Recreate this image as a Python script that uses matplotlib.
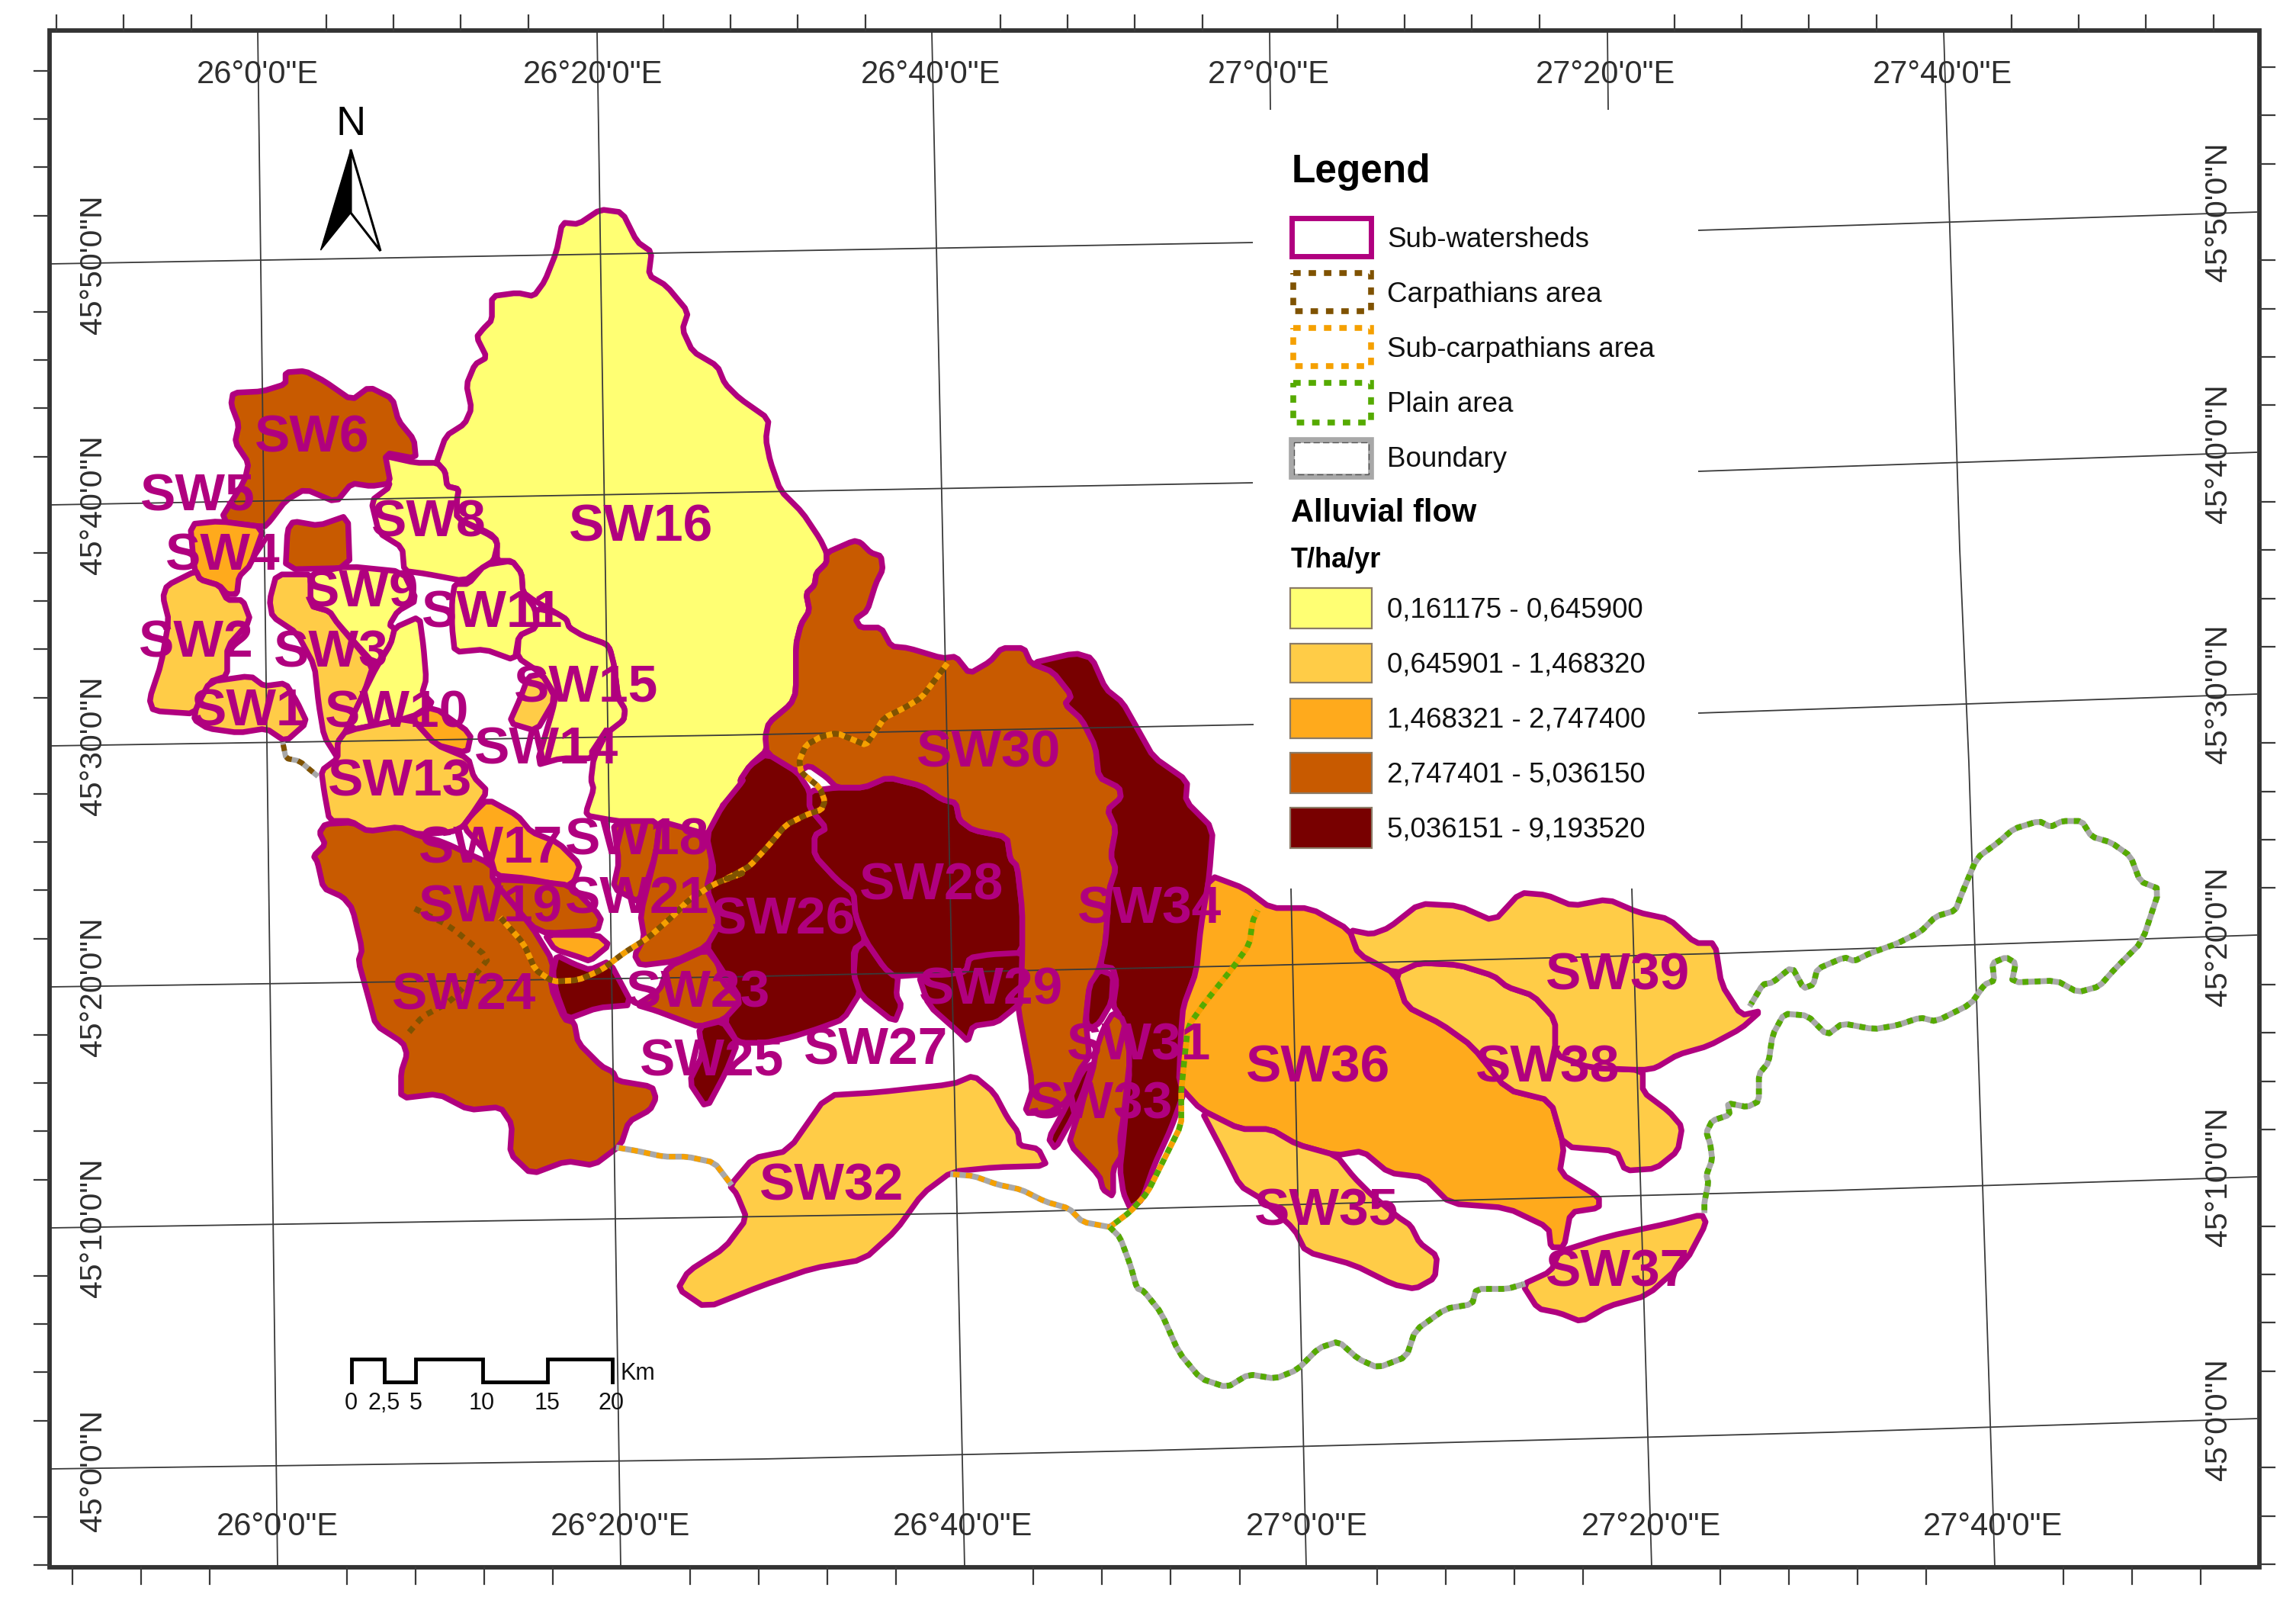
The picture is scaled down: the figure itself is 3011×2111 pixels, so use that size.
import matplotlib
matplotlib.use("Agg")
import matplotlib.pyplot as plt
from matplotlib.patches import Polygon, Rectangle
import numpy as np

plt.rcParams['font.family'] = ['Liberation Sans', 'DejaVu Sans']
plt.rcParams['lines.scale_dashes'] = False

W, H = 3011, 2111

# survey windows: (x0, y0, width, height) of the map sheet; every outline below is read in one of them
Z1 = (150, 450, 800, 600)
Z2 = (350, 1000, 800, 600)
Z5 = (950, 680, 700, 700)
Z6 = (1250, 1100, 700, 700)
Z7 = (1500, 1050, 900, 900)
Z8 = (2100, 1000, 800, 800)
Z9 = (300, 680, 560, 560)
Z10 = (0, 0, 700, 700)
D = (0, 0, 3011, 3011)


def z(frame, pts):
    x0, y0, w, h = frame
    sx, sy = (1.9203 if frame is D else w / 1568), (1.9203 if frame is D else h / 1568)
    return [(x0 + a * sx, y0 + b * sy) for a, b in pts]


def smooth(pts, closed=True, n=1):
    # corner rounding only: the drawn outline keeps to the traced vertices
    p = np.asarray(pts, float)
    for _ in range(n):
        q = np.roll(p, -1, axis=0) if closed else p[1:]
        a = p if closed else p[:-1]
        cut = np.empty((2 * len(a), 2))
        cut[0::2] = 0.85 * a + 0.15 * q
        cut[1::2] = 0.15 * a + 0.85 * q
        if not closed:
            cut = np.vstack([p[0], cut, p[-1]])
        p = cut
    return p


YEL, LOR, ORA, BRN, DRK = '#FFFF73', '#FFCC47', '#FFAA1C', '#C85A00', '#780000'
MAG = '#B0007F'

classes = ['0,161175 - 0,645900', '0,645901 - 1,468320', '1,468321 - 2,747400',
           '2,747401 - 5,036150', '5,036151 - 9,193520']
class_colors = [YEL, LOR, ORA, BRN, DRK]

sw16 = (z(Z10, [(1280, 1365), (1310, 1280), (1365, 1245), (1385, 1200), (1370, 1130), (1395, 1070), (1430, 1050),
                (1400, 990), (1420, 965), (1445, 940), (1445, 870), (1520, 860), (1568, 870)]) +
        z(D, [(372, 192), (380, 172), (384, 152), (395, 153), (410, 143), (425, 145), (435, 165), (445, 172), (443, 188), (455, 195), (470, 213),
              (466, 225), (473, 240), (490, 250), (495, 262), (505, 272), (525, 286), (523, 300), (526, 315),
              (533, 335), (548, 350), (560, 368)]) +
        z(Z5, [(300, 100), (300, 130), (270, 160), (265, 195), (240, 220), (250, 270), (225, 310), (210, 370),
               (210, 510), (195, 545), (130, 600), (125, 680), (75, 725), (45, 770), (65, 820), (0, 830)]) +
        z(Z2, [(1150, 220), (1130, 245), (830, 185), (820, 170), (840, 90)]) +
        z(Z9, [(1330, 960), (1340, 880), (1385, 790), (1420, 760), (1450, 740), (1455, 700), (1430, 660), (1415, 540),
               (1400, 480), (1385, 460), (1300, 430), (1250, 400), (1240, 370), (1200, 345), (1120, 300), (1080, 270),
               (1075, 200), (1040, 155), (985, 155), (985, 80), (960, 55)]) +
        z(Z1, [(880, 600), (880, 540), (885, 500), (855, 490), (850, 440), (830, 410)]))
sw8 = z(Z1, [(690, 385), (775, 410), (830, 410), (850, 440), (855, 490), (885, 500), (880, 540), (880, 600), (975, 665),
             (985, 690), (975, 745), (945, 770), (900, 815), (800, 790), (745, 780), (740, 700), (680, 650), (660, 540),
             (710, 490), (690, 440)])
sw6 = z(Z1, [(305, 170), (380, 165), (440, 140), (440, 100), (490, 95), (540, 130), (610, 195), (655, 150), (715, 190),
             (730, 265), (770, 330), (775, 395), (695, 375), (710, 480), (660, 490), (610, 480), (570, 545), (490, 500),
             (440, 540), (400, 610), (385, 630), (270, 610), (335, 470), (345, 410), (310, 340), (320, 280), (300, 210)])
sw7 = z(Z1, [(460, 610), (525, 625), (600, 590), (605, 770), (440, 775), (445, 640)])
sw4 = z(Z1, [(195, 620), (270, 610), (385, 630), (350, 760), (320, 800), (315, 860), (290, 860), (270, 830), (220, 810),
             (205, 770)])
sw2 = z(Z1, [(135, 830), (210, 780), (220, 810), (270, 830), (290, 880), (330, 880), (350, 950), (290, 1040), (290, 1140),
             (245, 1160), (210, 1270), (100, 1260), (90, 1220), (120, 1100), (140, 950), (125, 870)])
sw1 = z(Z1, [(245, 1160), (350, 1140), (385, 1175), (440, 1165), (470, 1230), (495, 1300), (440, 1365), (390, 1320),
             (320, 1335), (240, 1320), (205, 1290), (210, 1250)])
sw3 = z(Z9, [(175, 205), (310, 205), (300, 320), (370, 340), (400, 385), (530, 540), (500, 630), (430, 780), (400, 820),
             (400, 880), (350, 800), (330, 680), (315, 540), (250, 420), (160, 360), (150, 300)])
sw9 = z(Z9, [(300, 200), (440, 175), (640, 195), (690, 300), (620, 340), (590, 390), (610, 405), (595, 460), (540, 540),
             (400, 385), (370, 340), (300, 320)])
sw10 = z(Z9, [(610, 400), (700, 360), (715, 470), (725, 590), (710, 640), (750, 680), (670, 730), (430, 780), (500, 630),
              (540, 550), (595, 460)])
sw11 = z(Z9, [(830, 240), (880, 240), (940, 170), (1040, 155), (1075, 200), (1080, 270), (1125, 330), (1130, 400),
              (1065, 430), (1050, 520), (940, 480), (830, 490), (820, 400), (820, 300)])
sw15 = z(Z9, [(1130, 330), (1200, 345), (1240, 370), (1250, 400), (1300, 430), (1385, 460), (1400, 480), (1415, 540),
              (1430, 660), (1455, 700), (1450, 740), (1385, 790), (1340, 880), (1220, 880), (1130, 905), (1190, 700),
              (1200, 650), (1150, 570), (1060, 510), (1065, 430), (1130, 400)])
sw14 = z(Z9, [(1070, 660), (1100, 580), (1150, 570), (1200, 660), (1130, 780), (1030, 750)])
sw13 = z(Z9, [(430, 780), (670, 730), (760, 830), (880, 880), (900, 950), (950, 1000), (890, 1090), (860, 1130),
              (820, 1150), (700, 1160), (620, 1135), (520, 1160), (450, 1110), (370, 1110), (350, 1000), (340, 925),
              (400, 880), (400, 820)])
sw12 = z(Z9, [(670, 730), (750, 690), (890, 790), (875, 860), (760, 830)])
sw17 = z(Z9, [(950, 1030), (1060, 1090), (1110, 1150), (1210, 1190), (1290, 1270), (1270, 1330), (1240, 1350),
              (1090, 1320), (980, 1310), (960, 1240), (860, 1130), (890, 1090)])
sw24 = z(Z2, [(150, 210), (220, 205), (260, 235), (340, 220), (390, 250), (450, 270), (580, 350), (580, 400), (680, 560),
              (735, 680), (730, 770), (765, 880), (790, 890), (800, 960), (860, 1040), (890, 1060), (900, 1090),
              (990, 1110), (1000, 1150), (985, 1190), (930, 1230), (910, 1310), (840, 1380), (770, 1365), (680, 1410),
              (625, 1340), (630, 1240), (600, 1180), (520, 1190), (440, 1135), (345, 1150), (345, 1060), (360, 1000),
              (350, 960), (280, 900), (260, 800), (235, 680), (245, 640), (220, 500), (195, 460), (145, 430), (130, 340),
              (120, 320), (150, 280), (135, 240)])
sw19 = z(Z2, [(580, 400), (680, 405), (780, 420), (860, 530), (850, 575), (720, 585), (680, 560)])
sw20 = z(Z2, [(715, 590), (850, 590), (880, 625), (830, 680), (800, 665), (740, 640)])
sw22 = z(Z2, [(745, 660), (790, 690), (830, 710), (880, 680), (940, 830), (850, 840), (770, 880), (745, 790), (735, 720)])
sw18 = z(Z2, [(890, 200), (1010, 200), (1000, 310), (960, 480), (890, 430), (905, 340)])
sw21 = z(Z2, [(1010, 200), (1130, 245), (1145, 350), (1130, 430), (1165, 550), (1130, 630), (1050, 680), (960, 695),
              (945, 660), (970, 600), (960, 520), (1000, 310)])
sw23 = z(Z2, [(1030, 700), (1130, 640), (1160, 690), (1170, 750), (1220, 820), (1175, 880), (1110, 905), (1060, 880),
              (1000, 850), (950, 830), (1010, 780)])
sw25 = z(Z2, [(1110, 905), (1170, 885), (1210, 960), (1180, 1060), (1130, 1185), (1085, 1095), (1120, 1000)])
sw26 = (z(Z5, [(45, 770), (75, 725), (125, 690), (215, 745), (250, 800), (250, 850), (300, 910), (265, 930), (265, 990),
               (330, 1060), (380, 1100), (385, 1165), (415, 1240), (380, 1265), (380, 1340), (400, 1390), (350, 1470)]) +
        z(Z2, [(1420, 910), (1350, 940), (1280, 960), (1210, 960), (1175, 880), (1220, 815), (1160, 690), (1130, 630),
               (1165, 550), (1130, 430), (1150, 370), (1130, 250), (1170, 150), (1225, 60)]))
sw27 = z(Z5, [(385, 1265), (415, 1240), (470, 1320), (510, 1345), (505, 1400), (520, 1430), (500, 1480), (400, 1400),
              (380, 1340)])
sw28 = z(Z5, [(250, 800), (330, 790), (410, 790), (480, 760), (580, 785), (640, 825), (680, 835), (690, 885), (730, 915),
              (830, 935), (840, 1000), (860, 1020), (875, 1150), (875, 1275), (800, 1285), (720, 1290), (710, 1330),
              (650, 1340), (570, 1340), (500, 1345), (470, 1320), (415, 1240), (385, 1165), (380, 1100), (330, 1060),
              (265, 990), (265, 930), (300, 910), (250, 850)])
sw29 = z(Z5, [(710, 1330), (720, 1290), (780, 1280), (875, 1275), (885, 1310), (870, 1420), (850, 1440), (800, 1480),
              (730, 1490), (715, 1535), (690, 1510), (600, 1430), (570, 1340), (650, 1340)])
sw30 = (z(Z5, [(300, 100), (380, 65), (400, 70), (430, 100), (460, 110), (465, 150), (445, 190), (420, 270), (385, 295),
               (400, 320), (460, 320), (490, 375), (540, 380), (640, 410), (680, 405), (720, 455), (780, 420), (815, 380),
               (880, 380), (900, 425), (965, 450), (1020, 520), (1000, 545), (1050, 590), (1090, 670), (1100, 760),
               (1160, 790), (1165, 820), (1125, 855), (1150, 910), (1135, 990), (1150, 1030), (1130, 1090), (1120, 1240),
               (1105, 1310), (1070, 1390), (1060, 1480)]) +
        z(Z6, [(390, 540), (400, 640), (370, 680), (335, 770), (280, 805), (210, 805), (235, 730), (190, 495)]) +
        z(Z5, [(870, 1420), (875, 1275), (875, 1150), (860, 1020), (840, 1000), (830, 935), (730, 915), (690, 885),
               (680, 835), (640, 825), (580, 785), (480, 760), (410, 790), (330, 790), (300, 760), (250, 725), (215, 745),
               (125, 690), (120, 640), (130, 600), (195, 545), (210, 510), (210, 370), (225, 310), (250, 270), (240, 220),
               (265, 195), (270, 160), (300, 130)]))
sw31 = z(Z6, [(430, 385), (470, 400), (465, 480), (430, 540), (400, 560), (390, 530), (400, 430)])
sw33a = z(Z6, [(410, 660), (380, 750), (350, 820), (300, 910), (280, 880), (330, 790), (380, 680)])
sw33 = z(Z6, [(470, 510), (500, 530), (520, 640), (500, 820), (490, 880), (495, 930), (470, 970), (470, 1050), (440, 1030),
              (430, 990), (340, 895), (360, 830), (410, 680), (420, 620), (440, 560)])
sw34 = (z(Z5, [(900, 425), (1030, 395), (1080, 410), (1120, 500), (1170, 540), (1215, 620), (1260, 700), (1360, 770),
               (1355, 830), (1435, 910), (1425, 1040), (1410, 1150), (1390, 1320), (1350, 1430), (1355, 1500)]) +
        z(Z6, [(670, 640), (680, 740), (640, 850), (590, 960), (555, 1060), (520, 1085), (500, 1040), (490, 970), (500, 880),
               (520, 660), (490, 520), (470, 490), (480, 420), (470, 380), (440, 375)]) +
        z(Z5, [(1105, 1310), (1120, 1240), (1130, 1090), (1150, 1030), (1135, 990), (1150, 910), (1125, 855), (1165, 820),
               (1160, 790), (1100, 760), (1090, 670), (1050, 590), (1000, 545), (1020, 520), (965, 450)]))
sw36 = z(Z7, [(150, 170), (230, 200), (290, 245), (380, 245), (470, 295), (490, 350), (575, 395), (600, 470), (680, 510),
              (750, 560), (830, 660), (930, 685), (960, 790), (950, 850), (1040, 905), (1040, 930), (975, 940), (960, 1020),
              (930, 1020), (925, 975), (830, 930), (700, 920), (640, 860), (560, 850), (500, 800), (440, 810), (350, 785),
              (290, 750), (220, 750), (130, 705), (80, 650), (85, 530), (90, 470), (120, 390), (130, 290)])
sw35 = z(Z7, [(130, 705), (220, 750), (290, 750), (350, 785), (440, 810), (480, 860), (520, 900), (580, 950), (610, 970),
              (630, 1010), (670, 1040), (665, 1090), (620, 1115), (570, 1105), (480, 1060), (370, 1030), (345, 980),
              (270, 910), (220, 880), (180, 800)])
sw38 = z(Z7, [(575, 395), (630, 370), (720, 375), (800, 400), (830, 425), (890, 445), (940, 500), (940, 580), (1020, 610),
              (1140, 615), (1140, 665), (1200, 710), (1230, 745), (1220, 800), (1170, 840), (1100, 845), (1080, 800),
              (960, 790), (930, 685), (830, 660), (750, 560), (680, 510), (600, 470)])
sw39 = z(Z7, [(470, 295), (520, 305), (560, 290), (630, 235), (720, 240), (800, 275), (860, 210), (920, 215), (980, 240),
              (1060, 225), (1130, 255), (1200, 270), (1260, 325), (1305, 325), (1320, 420), (1365, 490), (1410, 480),
              (1365, 520), (1290, 560), (1220, 580), (1170, 610), (1140, 615), (1020, 610), (940, 580), (940, 500),
              (890, 445), (830, 425), (800, 400), (720, 375), (630, 370), (575, 395), (490, 350)])
sw37 = z(Z7, [(865, 1105), (930, 1075), (950, 1030), (1060, 995), (1200, 965), (1275, 945), (1285, 965), (1240, 1050),
              (1150, 1130), (1060, 1155), (1000, 1190), (950, 1170), (900, 1160)])
sw32 = (z(Z2, [(1190, 1450), (1250, 1355), (1340, 1330), (1440, 1140), (1568, 1130)]) +
        z(Z6, [(0, 720), (60, 695), (120, 745), (160, 820), (190, 860), (195, 900), (250, 910), (275, 960)]) +
        z(D, [(680, 797), (650, 800), (630, 815), (612, 840), (590, 860), (555, 866), (520, 878), (482, 893), (463, 880),
              (470, 868), (495, 852), (510, 832), (503, 815)]))

units = [(sw16, YEL), (sw8, YEL), (sw6, BRN), (sw7, BRN), (sw4, ORA), (sw2, LOR), (sw1, LOR), (sw3, LOR), (sw9, YEL),
         (sw10, YEL), (sw11, YEL), (sw15, YEL), (sw14, LOR), (sw13, LOR), (sw12, ORA), (sw17, ORA), (sw24, BRN),
         (sw19, BRN), (sw20, ORA), (sw22, DRK), (sw18, BRN), (sw21, BRN), (sw23, BRN), (sw25, DRK), (sw26, DRK),
         (sw27, DRK), (sw28, DRK), (sw29, DRK), (sw30, BRN), (sw34, DRK), (sw31, DRK), (sw33, BRN), (sw33a, DRK),
         (sw36, ORA), (sw35, LOR), (sw38, LOR), (sw39, LOR), (sw37, LOR), (sw32, LOR)]

sw_names = ['SW1', 'SW2', 'SW3', 'SW4', 'SW5', 'SW6', 'SW8', 'SW9', 'SW10', 'SW11', 'SW13', 'SW14', 'SW15', 'SW16', 'SW17',
            'SW18', 'SW19', 'SW21', 'SW23', 'SW24', 'SW25', 'SW26', 'SW27', 'SW28', 'SW29', 'SW30', 'SW31', 'SW32', 'SW33',
            'SW34', 'SW35', 'SW36', 'SW37', 'SW38', 'SW39']
sw_x = [170, 134, 226, 152, 135, 213, 293, 247, 271, 336, 273, 373, 400, 438, 335, 435, 335, 435, 477, 317, 486, 535, 598,
        636, 677, 675, 778, 568, 752, 785, 906, 900, 1105, 1057, 1105]
sw_y = [484, 437, 444, 378, 337, 297, 355, 403, 485, 417, 532, 510, 468, 358, 578, 572, 618, 612, 676, 678, 723, 626, 715,
        603, 674, 512, 712, 808, 752, 619, 825, 727, 867, 727, 664]

carp_west = z(Z9, [(200, 830), (210, 880), (260, 890), (320, 940)])
carp_mid = z(Z2, [(380, 500), (470, 560), (570, 670), (540, 720), (470, 820), (400, 870), (355, 940)])
subcarp_a = (z(Z5, [(655, 425), (625, 465), (580, 525), (530, 555), (470, 585), (440, 630), (415, 665), (380, 650), (330, 630),
                    (285, 640), (240, 665), (220, 710)]) +
             z(Z5, [(225, 745), (280, 790), (295, 830), (285, 855), (240, 870), (180, 900), (130, 960), (75, 1020), (40, 1040),
                    (0, 1060)]) +
             z(Z2, [(1230, 375), (1150, 415), (1085, 470), (1040, 530), (980, 600), (920, 650), (860, 710), (800, 745), (735, 750),
                    (690, 710), (660, 620), (600, 530)]))
subcarp_south = (z(Z2, [(905, 1320), (950, 1330), (1020, 1350), (1080, 1350), (1150, 1370), (1190, 1440)]))
subcarp_se = z(Z6, [(0, 985), (60, 990), (130, 1015), (200, 1030), (270, 1065), (340, 1085), (380, 1125), (460, 1140)])
plain_edge = z(Z6, [(460, 1140), (520, 1095), (570, 1040), (620, 940), (670, 840), (670, 760), (670, 740), (680, 640), (690, 550),
                    (740, 480), (820, 380), (870, 310), (880, 240), (895, 210)])
loop_south = (z(Z6, [(460, 1140), (490, 1170), (520, 1250), (540, 1320)]) +
              z(Z7, [(0, 1120), (40, 1170), (80, 1260), (130, 1320), (190, 1340), (240, 1310), (300, 1320), (350, 1300),
                     (400, 1250), (445, 1235), (490, 1275), (535, 1295), (600, 1270), (620, 1210), (690, 1160), (750, 1150),
                     (760, 1115), (830, 1115), (865, 1105)]))
loop_east = z(Z8, [(265, 1150), (265, 1130), (275, 1080), (270, 1060), (285, 1020), (280, 980), (270, 950), (285, 920), (330, 905),
                   (325, 875), (375, 885), (405, 870), (405, 800), (430, 770), (440, 700), (470, 645), (530, 650), (580, 700),
                   (620, 670), (700, 685), (760, 675), (820, 655), (860, 665), (950, 620), (985, 570), (1010, 560), (1005, 515),
                   (1040, 500), (1065, 515), (1055, 565), (1170, 560), (1225, 590), (1280, 575), (1320, 530), (1390, 460),
                   (1435, 325), (1385, 305), (1360, 240), (1310, 205), (1260, 190), (1235, 150), (1185, 150), (1155, 165),
                   (1125, 150), (1060, 170), (1020, 205), (965, 245), (925, 340), (910, 380), (860, 395), (820, 435), (760, 465),
                   (690, 490), (650, 510), (625, 500), (555, 530), (545, 570), (520, 580), (490, 525), (440, 565), (415, 570),
                   (385, 620)])

meridians = [[(338, 42), (364, 2055)], [(783, 42), (814, 2055)], [(1222, 42), (1265, 2055)],
             [(1665, 42), (1666, 144)], [(1693, 1165), (1713, 2055)],
             [(2108, 42), (2109, 144)], [(2140, 1165), (2166, 2055)],
             [(2549, 42), (2570, 720), (2582, 1000), (2608, 1800), (2616, 2055)]]
parallels = [[(66, 346), (1643, 318)], [(2227, 302), (2960, 278)],
             [(66, 662), (1643, 633)], [(2227, 618), (2960, 593)],
             [(66, 978), (950, 964), (1644, 950)], [(2227, 935), (2960, 910)],
             [(66, 1294), (950, 1281), (1650, 1266), (2258, 1250), (2960, 1226)],
             [(66, 1610), (1254, 1591), (2400, 1561), (2960, 1543)],
             [(66, 1926), (1000, 1913), (1500, 1902), (2400, 1878), (2960, 1860)]]

lon_labels = ['26°0\'0"E', '26°20\'0"E', '26°40\'0"E', '27°0\'0"E', '27°20\'0"E', '27°40\'0"E']
lon_top_x = [338, 778, 1221, 1664, 2105, 2547]
lon_bot_x = [364, 814, 1263, 1714, 2165, 2614]
lat_labels = ['45°50\'0"N', '45°40\'0"N', '45°30\'0"N', '45°20\'0"N', '45°10\'0"N', '45°0\'0"N']
lat_left_y = [347, 662, 978, 1294, 1610, 1928]
lat_right_y = [278, 595, 910, 1228, 1543, 1861]

line_names = ['Sub-watersheds', 'Carpathians area', 'Sub-carpathians area', 'Plain area', 'Boundary']
scale_labels = ['0', '2,5', '5', '10', '15', '20']
scale_x = [460, 504, 545, 632, 718, 802]

fig = plt.figure(figsize=(W / 100, H / 100), dpi=100)
ax = fig.add_axes([0, 0, 1, 1])
ax.set_xlim(0, W)
ax.set_ylim(H, 0)
ax.axis('off')
LC = '#3A3A3A'


def path(p, do_smooth=True, **k):
    p = smooth(p, closed=False) if do_smooth else np.asarray(p)
    ax.plot(p[:, 0], p[:, 1], **k)


for pts, col in units:
    ax.add_patch(Polygon(smooth(pts), closed=True, fc=col, ec=MAG, lw=5.4, joinstyle='round', zorder=2))

for ln in meridians + parallels:
    path(ln, do_smooth=False, color='#3A3A3A', lw=1.3, zorder=3, solid_capstyle='butt')

BRD = '#7F5200'
SUB = '#F5A000'
GRN = '#55AA00'
GRY = '#A8A8A8'
dash = (0, (6, 6))
for ln in (subcarp_south, subcarp_se):
    path(ln, color=GRY, lw=5.5, zorder=4)
    path(ln, color=SUB, lw=5, ls=dash, zorder=4.1)
path(carp_west, color=GRY, lw=5, zorder=4)
path(carp_west, color=BRD, lw=5, ls=dash, zorder=4.1)
path(subcarp_a, color=SUB, lw=5.5, ls=dash, zorder=4)
path(subcarp_a, color=BRD, lw=5.5, ls=(6, (6, 6)), zorder=4.1)
path(carp_mid, color=BRD, lw=5.5, ls=dash, zorder=4.1)
path(plain_edge, color=SUB, lw=5.5, ls=dash, zorder=4)
path(plain_edge, color=GRN, lw=5.5, ls=(6, (6, 6)), zorder=4.1)
for ln in (loop_south, loop_east):
    path(ln, color=GRY, lw=5.5, zorder=4)
    path(ln, color=GRN, lw=5.5, ls=(0, (5.5, 6)), zorder=4.1)

for name, x, y in zip(sw_names, sw_x, sw_y):
    ax.text(x * 1.9203, y * 1.9203 + 4, name, color=MAG, fontsize=50, fontweight='bold', ha='center', va='center', zorder=6)

# frame and outside ticks
ax.add_patch(Rectangle((65, 40), 2898, 2015, fc='none', ec='#333333', lw=4.2, zorder=7))
for i in range(33):
    if i % 5 != 3:
        x = 74 + 88.4 * i
        ax.plot([x, x], [20, 40], color=LC, lw=1.6, zorder=7)
for i in range(32):
    if i % 5 != 3:
        x = 95 + 90.03 * i
        ax.plot([x, x], [2055, 2077], color=LC, lw=1.6, zorder=7)
    if i % 5 != 4:
        y = 93 + 63.2 * i
        ax.plot([45, 65], [y, y], color=LC, lw=1.6, zorder=7)
    if i % 5 != 3:
        y = 88 + 63.32 * i
        ax.plot([2963, 2983], [y, y], color=LC, lw=1.6, zorder=7)

TXT = '#2E2E2E'
for s, xt, xb in zip(lon_labels, lon_top_x, lon_bot_x):
    ax.text(xt, 98, s, fontsize=30, color=TXT, ha='center', va='center', zorder=5)
    ax.text(xb, 2002, s, fontsize=30, color=TXT, ha='center', va='center', zorder=5)
for s, yl, yr in zip(lat_labels, lat_left_y, lat_right_y):
    ax.text(122, yl, s, fontsize=29.5, color=TXT, rotation=90, ha='center', va='center', zorder=5)
    ax.text(2909, yr, s, fontsize=29.5, color=TXT, rotation=90, ha='center', va='center', zorder=5)

# legend
ax.text(1694, 226, 'Legend', fontsize=37, fontweight='bold', color='black', va='center', ha='left')
ax.add_patch(Rectangle((1694, 286), 104, 50, fc='white', ec=MAG, lw=5))
rect_y = [(358, 50), (430, 50), (502, 52)]
for (y, h), c in zip(rect_y, [BRD, SUB, GRN]):
    ax.add_patch(Rectangle((1696, y), 102, h, fc='white', ec=c, lw=5.5, ls=(0, (7, 7.5))))
ax.add_patch(Rectangle((1694, 577), 104, 48, fc='white', ec=GRY, lw=5.5))
ax.add_patch(Rectangle((1697, 580), 98, 42, fc='none', ec='#555555', lw=1, ls=(0, (6, 3))))
for s, y in zip(line_names, [314, 387, 458, 531, 602]):
    ax.text(1819, y, s, fontsize=26.5, color='#111111', va='center', ha='left')
ax.text(1693, 673, 'Alluvial flow', fontsize=30, fontweight='bold', color='black', va='center', ha='left')
ax.text(1693, 735, 'T/ha/yr', fontsize=26, fontweight='bold', color='black', va='center', ha='left')
for s, c, y0, y1 in zip(classes, class_colors, [771, 844, 916, 987, 1059], [824, 895, 968, 1040, 1112]):
    ax.add_patch(Rectangle((1692, y0), 107, y1 - y0, fc=c, ec='#8B7B66', lw=1.6))
    ax.text(1819, (y0 + y1) / 2 + 2, s, fontsize=26.5, color='#111111', va='center', ha='left')

# scale bar
bar_x = [461, 461, 504, 504, 545, 545, 633, 633, 718, 718, 803, 803]
bar_y = [1812, 1782, 1782, 1812, 1812, 1782, 1782, 1812, 1812, 1782, 1782, 1812]
ax.plot(bar_x, bar_y, color='black', lw=3.5, solid_joinstyle='miter', zorder=5)
for s, x in zip(scale_labels, scale_x):
    ax.text(x, 1840, s, fontsize=22, color='#111111', ha='center', va='center', zorder=5)
ax.text(813, 1801, 'Km', fontsize=22, color='#111111', ha='left', va='center', zorder=5)

# north arrow
ax.text(460, 163, 'N', fontsize=39, color='black', ha='center', va='center', zorder=5)
ax.add_patch(Polygon([(460, 196), (460, 279), (420.5, 328)], closed=True, fc='black', ec='black', lw=1, zorder=5))
ax.add_patch(Polygon([(460, 196), (460, 279), (499, 329)], closed=True, fc='white', ec='black', lw=2.2, zorder=5))

fig.savefig('out.png', dpi=100, facecolor='white')
